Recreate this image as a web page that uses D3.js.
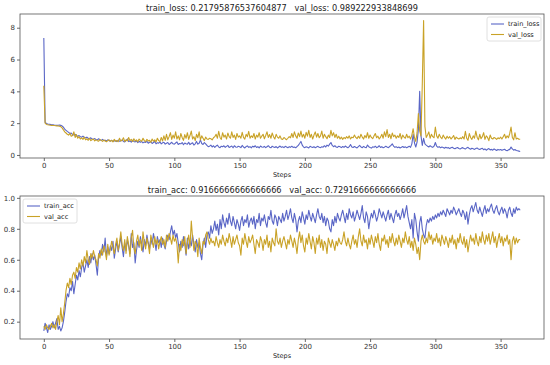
<!DOCTYPE html>
<html><head><meta charset="utf-8">
<script src="https://cdn.jsdelivr.net/npm/d3@7"></script>
<style>body{margin:0;background:#fff}text{font-family:"DejaVu Sans",sans-serif;fill:#222;white-space:pre}</style>
</head><body><svg id="c" width="550" height="365"></svg>
<script>
const trainLoss=[7.35,2.05,1.98,1.95,1.93,1.92,1.90,1.90,1.88,1.87,
1.86,1.87,1.88,1.86,1.82,1.75,1.62,1.55,1.48,1.42,
1.35,1.38,1.28,1.25,1.30,1.20,1.18,1.22,1.15,1.12,
1.18,1.10,1.08,1.12,1.05,1.02,1.08,1.00,0.98,1.03,
0.97,0.95,1.02,0.94,0.92,0.98,0.90,0.93,0.88,0.95,
0.90,0.87,0.92,0.85,0.90,0.88,0.84,0.93,0.86,0.88,
0.95,0.85,0.82,0.90,1.00,0.84,0.88,0.80,0.92,0.85,
0.82,0.88,0.78,0.86,0.80,0.84,0.76,0.82,0.79,0.85,
0.74,0.80,0.83,0.72,0.78,0.85,0.70,0.77,0.74,0.82,
0.70,0.76,0.80,0.68,0.74,0.78,0.66,0.72,0.80,0.70,
0.68,0.75,0.82,0.66,0.72,0.70,0.78,0.64,0.75,0.70,
0.68,0.80,0.65,0.72,0.76,0.62,0.70,0.85,0.68,0.74,
0.95,0.72,0.66,0.78,0.70,0.60,0.52,0.55,0.62,0.50,
0.58,0.48,0.56,0.62,0.50,0.46,0.55,0.52,0.58,0.48,
0.54,0.60,0.47,0.52,0.56,0.45,0.58,0.50,0.48,0.55,
0.52,0.46,0.60,0.50,0.44,0.53,0.57,0.48,0.52,0.45,
0.55,0.50,0.58,0.47,0.52,0.44,0.56,0.50,0.48,0.54,
0.46,0.52,0.58,0.49,0.45,0.55,0.50,0.47,0.53,0.44,
0.50,0.56,0.48,0.52,0.46,0.54,0.50,0.45,0.52,0.48,
0.55,0.47,0.50,0.45,0.53,0.60,0.72,0.85,0.62,0.50,
0.46,0.52,0.48,0.44,0.55,0.50,0.47,0.52,0.45,0.50,
0.54,0.48,0.46,0.52,0.49,0.58,0.50,0.62,0.55,0.68,
0.78,0.60,0.52,0.58,0.50,0.47,0.55,0.51,0.46,0.53,
0.48,0.56,0.50,0.45,0.52,0.66,0.50,0.47,0.53,0.48,
0.44,0.52,0.60,0.50,0.46,0.54,0.49,0.45,0.62,0.52,
0.47,0.43,0.51,0.48,0.55,0.46,0.50,0.58,0.47,0.52,
0.45,0.49,0.55,0.50,0.46,0.53,0.60,0.70,0.55,0.48,
0.52,0.46,0.50,0.44,0.48,0.53,0.47,0.51,0.45,0.50,
0.55,0.48,0.70,1.30,0.75,0.50,0.80,1.60,4.00,1.20,
0.60,1.05,0.70,0.62,0.55,0.50,0.58,0.52,0.48,0.55,
0.78,0.55,0.48,0.52,0.45,0.50,0.47,0.42,0.48,0.44,
0.46,0.40,0.45,0.48,0.42,0.39,0.44,0.47,0.41,0.38,
0.43,0.46,0.40,0.37,0.44,0.48,0.40,0.36,0.42,0.39,
0.35,0.40,0.44,0.37,0.34,0.39,0.42,0.33,0.38,0.30,
0.36,0.40,0.32,0.35,0.30,0.38,0.33,0.28,0.35,0.31,
0.34,0.29,0.33,0.36,0.30,0.27,0.32,0.35,0.50,0.38,
0.30,0.34,0.28,0.26,0.24,0.22];
const valLoss=[4.35,2.00,1.92,1.90,1.88,1.87,1.86,1.85,1.85,1.84,
1.83,1.82,1.80,1.78,1.70,1.58,1.45,1.38,1.30,1.25,
1.35,1.18,1.22,1.45,1.10,1.28,1.05,1.15,1.00,1.08,
0.98,1.12,0.95,1.02,0.92,1.05,0.90,0.96,1.00,0.88,
0.95,0.90,0.86,0.98,0.92,0.85,0.94,0.88,0.83,0.90,
0.95,0.86,0.92,0.82,0.98,0.87,0.90,0.84,1.05,0.88,
0.92,1.08,0.85,0.95,0.88,1.10,0.90,0.98,0.85,1.02,
0.88,0.95,0.83,1.00,0.92,0.86,1.05,0.90,0.84,0.98,
0.88,0.92,0.80,1.00,0.86,0.95,0.82,1.05,0.90,0.85,
1.10,0.88,1.20,0.92,1.30,0.95,1.15,1.40,0.98,1.25,
1.05,1.45,1.00,1.20,0.95,1.35,1.10,0.92,1.28,1.05,
1.40,0.98,1.22,1.50,1.00,1.15,0.90,1.30,1.08,1.45,
0.95,1.20,1.05,0.90,1.12,1.00,0.98,1.05,1.02,0.95,
1.08,1.15,1.30,1.05,1.48,1.10,0.98,1.40,1.12,1.25,
1.00,1.38,1.15,1.05,1.45,1.10,1.25,0.98,1.35,1.12,
1.20,1.05,1.42,1.10,1.00,1.30,1.15,1.48,1.05,1.20,
1.10,1.35,1.00,1.25,1.12,1.40,1.05,1.18,1.30,1.02,
1.22,1.45,1.10,1.28,1.05,1.38,1.15,1.00,1.30,1.12,
1.05,1.20,1.00,0.98,1.10,1.02,0.96,1.05,1.15,1.08,
1.35,1.10,1.45,1.20,1.05,1.38,1.15,1.50,1.12,1.30,
1.05,1.42,1.18,1.55,1.10,1.30,1.00,1.25,1.45,1.12,
1.35,1.08,1.20,1.50,1.05,1.30,1.15,1.02,1.25,1.10,
1.55,1.20,1.40,1.10,1.30,1.05,1.18,1.00,1.12,0.98,
1.10,1.02,1.15,1.05,1.20,1.00,1.12,1.08,1.25,1.10,
1.02,1.18,1.05,1.30,1.12,1.00,1.22,1.08,1.40,1.05,
1.25,1.10,1.02,1.20,1.35,1.08,1.18,1.00,1.12,1.30,
1.05,1.45,1.15,1.60,1.10,1.30,1.02,1.38,1.15,1.25,
1.05,1.20,1.10,1.35,1.00,1.25,1.12,1.05,1.30,1.08,
1.18,1.00,1.25,1.65,1.10,0.85,1.40,2.60,1.50,1.20,
4.50,8.45,1.80,1.10,1.25,1.45,1.05,1.30,1.15,1.08,
1.75,1.20,1.05,1.30,1.12,1.02,1.25,1.10,1.00,1.18,
1.05,1.15,1.00,1.10,1.22,0.98,1.12,1.05,1.00,1.08,
1.02,1.15,1.00,1.48,1.05,0.92,1.35,1.10,0.98,1.20,
1.05,1.50,1.12,0.95,1.30,1.02,1.15,1.40,0.98,1.20,
1.10,0.90,1.25,1.05,1.00,1.10,1.05,0.98,1.08,1.02,
1.12,1.00,1.15,1.30,1.05,1.20,1.08,1.35,1.75,1.10,
0.95,1.40,1.00,1.05,0.99,0.99];
const trainAcc=[0.14,0.19,0.16,0.13,0.18,0.15,0.17,0.20,0.16,0.19,
0.22,0.15,0.17,0.14,0.16,0.20,0.26,0.33,0.38,0.36,
0.42,0.40,0.46,0.38,0.44,0.50,0.47,0.53,0.49,0.55,
0.58,0.52,0.56,0.60,0.55,0.62,0.58,0.64,0.60,0.63,
0.57,0.50,0.62,0.66,0.63,0.70,0.65,0.74,0.62,0.68,
0.64,0.69,0.66,0.72,0.61,0.67,0.72,0.65,0.70,0.75,
0.68,0.62,0.71,0.66,0.73,0.69,0.64,0.77,0.68,0.71,
0.58,0.66,0.72,0.68,0.75,0.70,0.65,0.73,0.69,0.76,
0.71,0.67,0.74,0.70,0.77,0.72,0.66,0.75,0.71,0.73,
0.68,0.74,0.70,0.67,0.72,0.76,0.73,0.78,0.82,0.76,
0.79,0.74,0.77,0.71,0.65,0.72,0.68,0.75,0.70,0.63,
0.74,0.67,0.72,0.69,0.76,0.70,0.65,0.73,0.68,0.71,
0.64,0.60,0.70,0.74,0.68,0.76,0.78,0.74,0.82,0.77,
0.80,0.85,0.79,0.83,0.76,0.86,0.80,0.89,0.84,0.81,
0.87,0.83,0.90,0.85,0.82,0.88,0.84,0.80,0.86,0.83,
0.79,0.85,0.88,0.82,0.86,0.84,0.89,0.81,0.85,0.87,
0.83,0.88,0.80,0.86,0.84,0.90,0.82,0.87,0.85,0.89,
0.84,0.81,0.88,0.86,0.92,0.85,0.83,0.89,0.87,0.82,
0.88,0.86,0.84,0.90,0.85,0.88,0.92,0.86,0.89,0.93,
0.87,0.84,0.90,0.86,0.78,0.85,0.88,0.84,0.91,0.87,
0.83,0.89,0.86,0.92,0.88,0.85,0.90,0.87,0.84,0.89,
0.93,0.88,0.86,0.90,0.84,0.88,0.82,0.87,0.85,0.80,
0.78,0.86,0.82,0.88,0.84,0.90,0.87,0.85,0.89,0.92,
0.88,0.84,0.90,0.86,0.93,0.89,0.87,0.91,0.85,0.88,
0.92,0.89,0.86,0.90,0.95,0.87,0.84,0.91,0.88,0.80,
0.86,0.90,0.87,0.92,0.89,0.85,0.88,0.93,0.90,0.87,
0.91,0.88,0.85,0.89,0.92,0.86,0.90,0.87,0.84,0.89,
0.92,0.88,0.90,0.86,0.89,0.93,0.87,0.91,0.95,0.88,
0.84,0.80,0.86,0.74,0.90,0.86,0.78,0.72,0.84,0.88,
0.80,0.76,0.74,0.82,0.86,0.84,0.87,0.85,0.88,0.86,
0.89,0.87,0.90,0.88,0.91,0.89,0.92,0.90,0.88,0.93,
0.91,0.89,0.92,0.90,0.94,0.92,0.89,0.91,0.93,0.90,
0.88,0.92,0.90,0.86,0.91,0.83,0.89,0.93,0.95,0.91,
0.94,0.97,0.92,0.90,0.94,0.91,0.88,0.92,0.95,0.90,
0.93,0.91,0.94,0.96,0.92,0.90,0.93,0.95,0.91,0.89,
0.92,0.94,0.90,0.93,0.91,0.87,0.92,0.94,0.90,0.88,
0.93,0.90,0.94,0.92,0.93,0.92];
const valAcc=[0.17,0.15,0.18,0.16,0.15,0.17,0.19,0.16,0.18,0.15,
0.20,0.24,0.18,0.29,0.20,0.25,0.32,0.40,0.45,0.42,
0.48,0.44,0.50,0.52,0.48,0.55,0.52,0.58,0.54,0.60,
0.56,0.62,0.58,0.66,0.60,0.57,0.64,0.61,0.66,0.62,
0.60,0.56,0.64,0.61,0.67,0.63,0.69,0.66,0.60,0.70,
0.63,0.67,0.72,0.68,0.64,0.70,0.74,0.66,0.71,0.78,
0.70,0.66,0.73,0.64,0.75,0.70,0.62,0.74,0.79,0.68,
0.64,0.72,0.76,0.69,0.73,0.66,0.78,0.71,0.67,0.74,
0.70,0.64,0.76,0.72,0.68,0.75,0.70,0.73,0.67,0.72,
0.75,0.70,0.73,0.68,0.76,0.72,0.77,0.74,0.70,0.76,
0.72,0.74,0.70,0.58,0.70,0.66,0.73,0.69,0.75,0.64,
0.71,0.76,0.68,0.85,0.74,0.66,0.72,0.70,0.62,0.74,
0.68,0.64,0.72,0.70,0.76,0.78,0.73,0.70,0.74,0.71,
0.72,0.69,0.75,0.71,0.68,0.73,0.70,0.76,0.72,0.69,
0.74,0.71,0.77,0.73,0.68,0.75,0.70,0.73,0.76,0.71,
0.69,0.63,0.74,0.70,0.77,0.72,0.68,0.75,0.71,0.73,
0.76,0.70,0.64,0.73,0.71,0.68,0.75,0.72,0.66,0.73,
0.70,0.76,0.68,0.72,0.65,0.74,0.71,0.69,0.80,0.72,
0.70,0.74,0.68,0.72,0.75,0.71,0.67,0.73,0.70,0.76,
0.72,0.68,0.74,0.70,0.64,0.73,0.78,0.71,0.76,0.69,
0.65,0.74,0.70,0.77,0.72,0.67,0.75,0.71,0.64,0.74,
0.70,0.76,0.68,0.73,0.66,0.72,0.70,0.64,0.74,0.71,
0.68,0.73,0.70,0.66,0.72,0.69,0.74,0.71,0.70,0.73,
0.78,0.72,0.69,0.74,0.70,0.67,0.72,0.76,0.70,0.73,
0.68,0.75,0.80,0.72,0.69,0.76,0.71,0.73,0.67,0.74,
0.70,0.76,0.72,0.68,0.75,0.71,0.77,0.70,0.66,0.74,
0.72,0.76,0.70,0.73,0.68,0.75,0.71,0.77,0.72,0.69,
0.74,0.70,0.76,0.72,0.68,0.74,0.71,0.78,0.73,0.70,
0.75,0.68,0.72,0.66,0.74,0.70,0.64,0.68,0.60,0.72,
0.76,0.72,0.70,0.74,0.71,0.78,0.73,0.76,0.70,0.74,
0.72,0.77,0.71,0.74,0.69,0.76,0.73,0.70,0.75,0.72,
0.68,0.74,0.71,0.76,0.70,0.73,0.67,0.74,0.71,0.77,
0.72,0.70,0.75,0.68,0.73,0.65,0.71,0.76,0.72,0.74,
0.70,0.77,0.72,0.69,0.75,0.71,0.78,0.73,0.70,0.76,
0.72,0.77,0.70,0.74,0.78,0.71,0.75,0.68,0.73,0.77,
0.71,0.75,0.69,0.74,0.72,0.76,0.70,0.73,0.60,0.72,
0.75,0.70,0.74,0.71,0.73,0.73];
const xTicks=[0,50,100,150,200,250,300,350];
const lossTicks=[0,2,4,6,8];
const accTicks=[0.2,0.4,0.6,0.8,1.0];
const titles=["train_loss: 0.21795876537604877   val_loss: 0.989222933848699",
              "train_acc: 0.9166666666666666   val_acc: 0.7291666666666666"];
const lossNames=["train_loss","val_loss"], accNames=["train_acc","val_acc"];
const colors=["#5a66c6","#c9a227"];

const svg=d3.select("#c");
const L=20,R=544;
function panel(top,bottom,series,names,yTicks,fmt,title,legendRight){
  const n=d3.max(series,s=>s.length)-1;
  const x=d3.scaleLinear().domain([-0.05*n,1.05*n]).range([L,R]);
  const all=series.flat();
  const [lo,hi]=d3.extent(all), pad=(hi-lo)*0.05;
  const y=d3.scaleLinear().domain([lo-pad,hi+pad]).range([bottom,top]);
  const g=svg.append("g");
  const xa=g.append("g").attr("transform",`translate(0,${bottom})`)
    .call(d3.axisBottom(x).tickValues(xTicks).tickSize(3).tickPadding(2));
  const ya=g.append("g").attr("transform",`translate(${L},0)`)
    .call(d3.axisLeft(y).tickValues(yTicks).tickFormat(fmt).tickSize(3).tickPadding(2));
  [xa,ya].forEach(a=>{a.select(".domain").remove();a.selectAll("line").attr("stroke","#444").attr("stroke-width",0.8);
    a.selectAll("text").attr("font-size",7).style("fill","#333");});
  const line=d3.line().x((d,i)=>x(i)).y(d=>y(d));
  series.forEach((s,k)=>g.append("path").datum(s).attr("d",line).attr("fill","none")
    .attr("stroke",colors[k]).attr("stroke-width",1.1).attr("stroke-linejoin","round"));
  g.append("rect").attr("x",L).attr("y",top).attr("width",R-L).attr("height",bottom-top)
    .attr("fill","none").attr("stroke","#555").attr("stroke-width",0.8);
  g.append("text").attr("x",(L+R)/2).attr("y",top-3).attr("text-anchor","middle")
    .attr("font-size",8.2).attr("xml:space","preserve").text(title);
  g.append("text").attr("x",(L+R)/2).attr("y",bottom+19).attr("text-anchor","middle")
    .attr("font-size",6.5).text("Steps");
  const lw=54,lh=24;
  const lx=legendRight?R-3-lw:L+3, ly=top+3;
  const lg=g.append("g").attr("transform",`translate(${lx},${ly})`);
  lg.append("rect").attr("width",lw).attr("height",lh).attr("rx",2).attr("fill","#fff")
    .attr("fill-opacity",0.85).attr("stroke","#d8d8d8").attr("stroke-width",0.8);
  names.forEach((nm,k)=>{
    const yy=7+k*10.5;
    lg.append("line").attr("x1",4).attr("x2",17).attr("y1",yy).attr("y2",yy)
      .attr("stroke",colors[k]).attr("stroke-width",1.1);
    lg.append("text").attr("x",21).attr("y",yy+2.4).attr("font-size",6.6).text(nm);
  });
}
panel(14,158,[trainLoss,valLoss],lossNames,lossTicks,d3.format("d"),titles[0],true);
panel(196,339,[trainAcc,valAcc],accNames,accTicks,d3.format(".1f"),titles[1],false);
</script></body></html>
